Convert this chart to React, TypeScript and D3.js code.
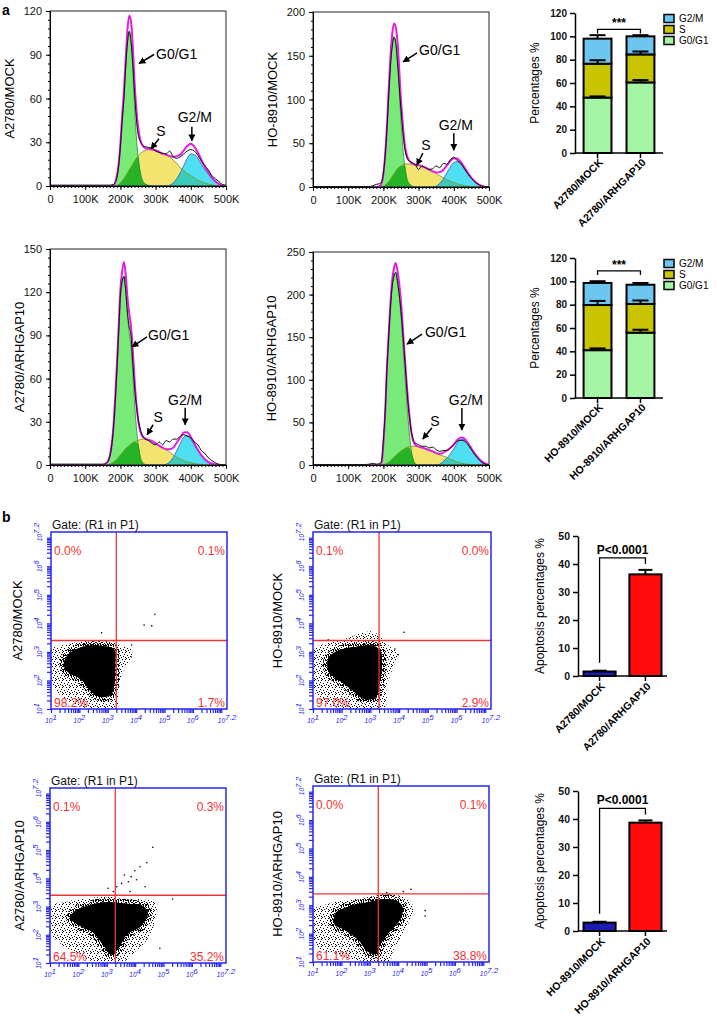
import * as d3 from 'd3';
import React, { useRef, useEffect } from 'react';

const FONT = '"Liberation Sans", Arial, Helvetica, sans-serif';
const FLOW_BLUE = '#2626f2';
const GATE_RED = '#f03434';

// ---------- a: cell cycle histograms (DNA content in K) ----------
const dnaContent = [0, 150, 160, 170, 180, 190, 195, 200, 205, 210, 215, 220, 225, 230, 235, 240, 250, 260, 270, 280, 290, 300, 310, 320, 330, 340, 350, 360, 370, 380, 390, 400, 410, 420, 430, 440, 450, 460, 470, 480, 490, 500];

const a2780MockG1 = [0, 0, 0, 0, 0.5, 6, 14, 27, 44, 60, 80, 98, 106, 100, 82, 55, 20, 6, 1.5, 0.5, 0, 0, 0, 0, 0, 0, 0, 0, 0, 0, 0, 0, 0, 0, 0, 0, 0, 0, 0, 0, 0, 0];
const a2780MockS = [0, 0, 0, 0, 0, 0.5, 1, 2, 3.5, 5, 7, 9, 11, 13, 15, 17, 20.5, 23, 24.5, 25, 25, 24.5, 23.5, 22, 21.5, 20, 18, 15.5, 12.5, 10.5, 8.5, 7, 5.5, 4, 3, 2, 1.3, 0.7, 0.3, 0, 0, 0];
const a2780MockG2 = [0, 0, 0, 0, 0, 0, 0, 0, 0, 0, 0, 0, 0, 0, 0, 0, 0, 0, 0, 0, 0, 0, 0, 0, 0, 0.5, 2, 5, 9, 14, 19, 22, 21.5, 19, 15, 11, 8, 5, 3, 1.3, 0.4, 0];
const a2780MockFit = [0, 0, 0, 0, 0.5, 7, 15, 29, 48, 65, 87, 107, 117, 113, 97, 72, 41, 29, 26, 25.5, 25, 24.5, 23.5, 22, 21.5, 20.5, 20, 20.5, 21.5, 24.5, 27.5, 29, 27, 23, 18, 13, 9.3, 5.7, 3.3, 1.3, 0.4, 0];
const a2780MockObs = [0.6, 0.6, 0.6, 0.6, 1, 6, 14, 27, 45, 60, 82, 98, 106, 99, 84, 64, 36, 29, 27, 26.5, 26, 24, 23, 22.5, 22, 24, 20, 19, 20, 22, 24, 25, 24, 21, 17, 14, 11, 7, 5, 3, 1, 0.5];

const ho8910MockG1 = [0, 0, 0, 0, 0, 1, 4, 14, 35, 65, 105, 140, 163, 172, 165, 145, 75, 25, 6, 1.5, 0, 0, 0, 0, 0, 0, 0, 0, 0, 0, 0, 0, 0, 0, 0, 0, 0, 0, 0, 0, 0, 0];
const ho8910MockS = [0, 0, 0, 0, 0, 0.3, 0.6, 1, 2, 4, 6, 9, 12, 15, 18, 21, 24, 26, 26.5, 26, 25.5, 25, 23.5, 22, 20, 18, 15.5, 13, 10.5, 8.5, 6.5, 5, 3.5, 2.5, 1.5, 1, 0.5, 0.3, 0, 0, 0, 0];
const ho8910MockG2 = [0, 0, 0, 0, 0, 0, 0, 0, 0, 0, 0, 0, 0, 0, 0, 0, 0, 0, 0, 0, 0, 0, 0, 0, 0, 0, 1, 4, 9, 16, 23, 28, 29, 26, 21, 15, 10, 6, 3, 1.2, 0.3, 0];
const ho8910MockFit = [0, 0, 0, 0, 0, 1.3, 4.6, 15, 37, 69, 111, 149, 175, 187, 183, 166, 99, 51, 32.5, 27.5, 25.5, 25, 23.5, 22, 20, 18, 16.5, 17, 19.5, 24.5, 29.5, 33, 32.5, 28.5, 22.5, 16, 10.5, 6.3, 3, 1.2, 0.3, 0];
const ho8910MockObs = [0.6, 0.6, 0.6, 1.5, 3, 4, 6, 16, 36, 66, 104, 138, 160, 171, 165, 142, 88, 46, 31, 28, 26, 20, 24, 22, 20, 21, 24, 22, 27, 26, 31, 34, 30, 27, 21, 15, 10, 6, 3, 1, 0.5, 0];

const a2780ArhG1 = [0, 0, 1, 6, 24, 65, 90, 115, 126, 131, 121, 104, 92, 82, 65, 44, 15, 3, 0.5, 0, 0, 0, 0, 0, 0, 0, 0, 0, 0, 0, 0, 0, 0, 0, 0, 0, 0, 0, 0, 0, 0, 0];
const a2780ArhS = [0, 0, 0, 0.5, 2, 4, 5.5, 7, 8.5, 10, 11.5, 12.5, 13.5, 14.5, 15.5, 16, 17, 18, 18, 17.5, 16.5, 15, 13.5, 12, 10.5, 9, 7, 5.5, 4, 3, 2.2, 1.5, 1, 0.6, 0.3, 0, 0, 0, 0, 0, 0, 0];
const a2780ArhG2 = [0, 0, 0, 0, 0, 0, 0, 0, 0, 0, 0, 0, 0, 0, 0, 0, 0, 0, 0, 0, 0, 0, 0, 0, 0.5, 2, 5, 10, 15, 19.5, 20.5, 18, 14, 10, 6.5, 4, 2, 1, 0.3, 0, 0, 0];
const a2780ArhFit = [0, 0, 1, 6.5, 26, 69, 95.5, 122, 134.5, 141, 132.5, 116.5, 105.5, 96.5, 80.5, 60, 32, 21, 18.5, 17.5, 16.5, 15, 13.5, 12, 11, 11, 12, 15.5, 19, 22.5, 22.7, 19.5, 15, 10.6, 6.8, 4, 2, 1, 0.3, 0, 0, 0];
const a2780ArhObs = [0.6, 0.6, 1.5, 6, 25, 66, 92, 118, 128, 131, 121, 106, 96, 90, 72, 55, 33, 22, 18, 17, 15, 14, 16, 14, 17, 16, 18, 18, 20, 21, 20, 19, 16, 14, 10, 8, 5, 3, 1.5, 0.5, 0.3, 0];

const ho8910ArhG1 = [0, 0, 0, 0, 0, 0, 3, 25, 60, 112, 150, 185, 210, 222, 226, 215, 175, 112, 55, 15, 2, 0, 0, 0, 0, 0, 0, 0, 0, 0, 0, 0, 0, 0, 0, 0, 0, 0, 0, 0, 0, 0];
const ho8910ArhS = [0, 0, 0, 0, 0, 0, 0.2, 0.5, 1, 2, 3.5, 5, 7, 9, 11, 13, 16.5, 19, 21, 22, 22, 21.5, 20.5, 19, 17.5, 16, 14, 12, 10.5, 9, 7, 5, 3.5, 2.3, 1.4, 0.8, 0.4, 0, 0, 0, 0, 0];
const ho8910ArhG2 = [0, 0, 0, 0, 0, 0, 0, 0, 0, 0, 0, 0, 0, 0, 0, 0, 0, 0, 0, 0, 0, 0, 0, 0, 0, 0, 0, 1, 4, 8, 13, 19, 26, 30, 29.5, 25, 19, 13, 8, 4, 1.5, 0.3];
const ho8910ArhFit = [0, 0, 0, 0, 0, 0, 3.2, 25.5, 61, 114, 153.5, 190, 217, 231, 237, 228, 191.5, 131, 76, 37, 24, 21.5, 20.5, 19, 17.5, 16, 14, 13, 14.5, 17, 20, 24, 29.5, 32.3, 30.9, 25.8, 19.4, 13, 8, 4, 1.5, 0.3];
const ho8910ArhObs = [0.6, 0.6, 1, 2, 1, 2, 5, 30, 62, 112, 150, 185, 210, 222, 226, 215, 180, 128, 72, 38, 26, 24, 22, 22, 20, 21, 18, 16, 17, 17, 20, 24, 28, 29, 28, 24, 18, 12, 7, 3, 1, 0.3];

// arrow labels: tip in data units, tail / text offsets in px
const a2780MockNotes = [
  { label: 'G0/G1', k: 253, v: 84, tail: [15, -9], text: [17, -5], anchor: 'start' },
  { label: 'S', k: 287, v: 25.5, tail: [8, -10], text: [10, -13], anchor: 'middle' },
  { label: 'G2/M', k: 403, v: 31, tail: [0, -14], text: [3, -19], anchor: 'middle' },
];
const ho8910MockNotes = [
  { label: 'G0/G1', k: 256, v: 143, tail: [14, -9], text: [16, -7], anchor: 'start' },
  { label: 'S', k: 295, v: 25, tail: [6, -12], text: [9, -15], anchor: 'middle' },
  { label: 'G2/M', k: 400, v: 42, tail: [0, -17], text: [2, -20], anchor: 'middle' },
];
const a2780ArhNotes = [
  { label: 'G0/G1', k: 233, v: 82, tail: [15, -10], text: [16, -7], anchor: 'start' },
  { label: 'S', k: 276, v: 21, tail: [6, -10], text: [11, -13], anchor: 'middle' },
  { label: 'G2/M', k: 384, v: 28, tail: [0, -17], text: [0, -20], anchor: 'middle' },
];
const ho8910ArhNotes = [
  { label: 'G0/G1', k: 267, v: 142, tail: [15, -10], text: [18, -7], anchor: 'start' },
  { label: 'S', k: 312, v: 30.5, tail: [9, -11], text: [12, -13], anchor: 'middle' },
  { label: 'G2/M', k: 423, v: 41, tail: [0, -22], text: [4, -25], anchor: 'middle' },
];

// ---------- a: phase percentages ----------
const PHASES = ['G0/G1', 'S', 'G2/M'];
const cycleGroupsA = ['A2780/MOCK', 'A2780/ARHGAP10'];
const g0g1A = [47.5, 60.5];
const sPhaseA = [29, 24];
const g2mA = [21.5, 15.5];
const g0g1ErrA = [1, 2];
const sPhaseErrA = [3, 2.5];
const g2mErrA = [3, 1];

const cycleGroupsH = ['HO-8910/MOCK', 'HO-8910/ARHGAP10'];
const g0g1H = [41, 56];
const sPhaseH = [38.7, 24.6];
const g2mH = [18.9, 16.5];
const g0g1ErrH = [1.5, 2.5];
const sPhaseErrH = [3.5, 3];
const g2mErrH = [1.5, 1.5];

// ---------- b: annexin / PI dot plots (log10 units) ----------
const gateLog = [3.3, 3.4];

const a2780MockCore = [[1.6, 2.9], [1.95, 3.12], [2.4, 3.22], [2.85, 3.2], [3.22, 3.1], [3.26, 2.48], [3.22, 1.8], [3.1, 1.5], [2.75, 1.42], [2.4, 1.62], [2.05, 2.05], [1.65, 2.25], [1.45, 2.55]];
const a2780MockHalo = [[1.0, 3.07], [1.43, 3.24], [2.02, 3.36], [2.61, 3.44], [3.08, 3.42], [3.43, 3.24], [3.84, 3.07], [3.84, 2.83], [3.55, 2.37], [3.37, 1.55], [3.31, 1.08], [2.73, 1.02], [2.02, 1.08], [1.55, 1.32], [1.14, 1.67], [1.0, 2.02]];
const a2780MockOut = [[4.66, 4.32], [4.28, 3.94], [4.55, 3.91], [2.78, 3.67], [3.84, 3.24], [3.83, 2.82]];
const a2780MockQuad = ['0.0%', '0.1%', '98.2%', '1.7%'];

const ho8910MockCore = [[1.55, 2.8], [1.98, 3.08], [2.52, 3.18], [3.08, 3.22], [3.35, 3.02], [3.4, 2.48], [3.3, 1.8], [3.18, 1.4], [2.78, 1.35], [2.32, 1.7], [1.86, 2.04], [1.55, 2.3]];
const ho8910MockHalo = [[1.0, 3.07], [1.48, 3.3], [2.17, 3.48], [2.75, 3.67], [3.1, 3.71], [3.45, 3.42], [3.68, 3.18], [3.97, 2.95], [3.8, 2.48], [3.57, 1.78], [3.51, 1.08], [2.64, 1.0], [1.71, 1.08], [1.24, 1.32], [1.0, 1.78]];
const ho8910MockOut = [[4.17, 3.69], [1.53, 3.42], [3.97, 2.9], [3.85, 3.1]];
const ho8910MockQuad = ['0.1%', '0.0%', '97.0%', '2.9%'];

const a2780ArhCore = [[1.9, 2.85], [2.4, 3.05], [3.0, 3.15], [3.7, 3.1], [4.3, 3.0], [4.45, 2.75], [4.2, 2.3], [3.7, 2.0], [3.4, 1.5], [3.15, 1.3], [2.9, 1.6], [2.5, 2.1], [2.0, 2.35], [1.7, 2.6]];
const a2780ArhHalo = [[1.02, 2.99], [1.59, 3.17], [2.29, 3.29], [3.0, 3.35], [3.7, 3.29], [4.41, 3.23], [4.76, 3.11], [4.78, 2.88], [4.64, 2.29], [4.41, 1.81], [3.93, 1.34], [3.58, 1.05], [2.53, 1.05], [1.94, 1.34], [1.35, 1.7], [1.02, 2.05]];
const a2780ArhOut = [[4.62, 5.1], [4.41, 4.55], [4.17, 4.41], [3.99, 4.27], [3.86, 4.06], [3.76, 3.88], [3.52, 3.82], [3.35, 3.7], [4.35, 3.7], [3.82, 3.53], [3.23, 3.53], [5.32, 3.27], [4.87, 1.52], [3.05, 3.65], [3.62, 4.12], [4.05, 3.95]];
const a2780ArhQuad = ['0.1%', '0.3%', '64.5%', '35.2%'];

const ho8910ArhCore = [[1.78, 2.7], [2.32, 2.97], [3.01, 3.12], [3.58, 3.22], [4.0, 3.12], [4.16, 2.92], [4.06, 2.48], [3.68, 2.04], [3.36, 1.6], [3.24, 1.28], [2.92, 1.38], [2.58, 1.8], [2.1, 2.14], [1.78, 2.3]];
const ho8910ArhHalo = [[1.01, 2.83], [1.6, 3.07], [2.3, 3.18], [3.01, 3.3], [3.6, 3.4], [3.95, 3.36], [4.3, 3.24], [4.53, 2.95], [4.42, 2.48], [4.18, 2.01], [3.83, 1.42], [3.71, 1.05], [2.66, 1.05], [1.72, 1.31], [1.13, 1.54], [1.01, 2.01]];
const ho8910ArhOut = [[4.45, 3.56], [4.18, 3.48], [3.6, 3.45], [4.95, 2.81], [4.95, 2.62]];
const ho8910ArhQuad = ['0.0%', '0.1%', '61.1%', '38.8%'];

// ---------- b: apoptosis percentages ----------
const apoGroupsA = ['A2780/MOCK', 'A2780/ARHGAP10'];
const apoMeanA = [1.6, 36.3];
const apoErrA = [0.3, 1.6];
const apoGroupsH = ['HO-8910/MOCK', 'HO-8910/ARHGAP10'];
const apoMeanH = [3.0, 38.7];
const apoErrH = [0.3, 0.8];

function styleText(sel, size, weight = 'normal') {
  sel.selectAll('text').attr('font-family', FONT).attr('font-size', size).attr('font-weight', weight).attr('fill', '#111');
}

function CellCycleHistogram({ left, top, width, height, yMax, yStep, label, labelX, g1, s, g2, fit, obs, notes }) {
  const ref = useRef<SVGGElement>(null);

  useEffect(() => {
    const g = d3.select(ref.current);
    g.selectAll('*').remove();
    const bottom = top + height;
    const x = d3.scaleLinear().domain([0, 500]).range([left, left + width]);
    const y = d3.scaleLinear().domain([0, yMax]).range([bottom, top]);
    const rows = dnaContent.map((k, i) => ({ k, g1: g1[i], s: s[i], g2: g2[i], fit: fit[i], obs: obs[i] }));

    const area = (f) => d3.area().x((d: any) => x(d.k)).y0(bottom).y1((d: any) => y(f(d))).curve(d3.curveMonotoneX);
    const line = (f) => d3.line().x((d: any) => x(d.k)).y((d: any) => y(f(d))).curve(d3.curveMonotoneX);

    const fills: any[] = [
      [(d) => d.s, '#f2e46e'],
      [(d) => d.g1, '#78ea78'],
      [(d) => d.g2, '#4ee0f0'],
      [(d) => Math.min(d.g1, d.s), '#26b426'],
      [(d) => Math.min(d.s, d.g2), '#3ccbb8'],
    ];
    fills.forEach(([f, c]) => g.append('path').datum(rows).attr('d', area(f)).attr('fill', c));

    const strokes: any[] = [
      [(d) => d.g1, '#2c8c2c', 0.8],
      [(d) => d.s, '#7b8f1c', 0.8],
      [(d) => d.g2, '#3355cc', 0.8],
      [(d) => d.fit, '#e21de2', 2],
      [(d) => d.obs, '#111', 1],
    ];
    strokes.forEach(([f, c, w]) =>
      g.append('path').datum(rows).attr('d', line(f)).attr('fill', 'none').attr('stroke', c).attr('stroke-width', w)
    );

    g.append('rect')
      .attr('x', left).attr('y', top).attr('width', width).attr('height', height)
      .attr('fill', 'none').attr('stroke', '#222');

    const xAxis = g.append('g').attr('transform', `translate(0,${bottom})`)
      .call(d3.axisBottom(x).tickValues(d3.range(0, 501, 100)).tickSize(4).tickSizeOuter(0).tickPadding(5)
        .tickFormat((d: any) => (d === 0 ? '0' : `${d}K`)));
    g.append('g').attr('transform', `translate(0,${bottom})`)
      .call(d3.axisBottom(x).tickValues(d3.range(0, 501, 10)).tickSize(2).tickSizeOuter(0).tickFormat(() => ''));
    const yAxis = g.append('g').attr('transform', `translate(${left},0)`)
      .call(d3.axisLeft(y).tickValues(d3.range(0, yMax + 1, yStep)).tickSize(4).tickSizeOuter(0).tickPadding(4));
    g.append('g').attr('transform', `translate(${left},0)`)
      .call(d3.axisLeft(y).tickValues(d3.range(0, yMax + 0.01, yStep / 5)).tickSize(2).tickSizeOuter(0).tickFormat(() => ''));
    styleText(xAxis, 11);
    styleText(yAxis, 11);

    g.append('text')
      .attr('transform', `translate(${labelX},${top + height / 2}) rotate(-90)`)
      .attr('text-anchor', 'middle').attr('dominant-baseline', 'central')
      .attr('font-family', FONT).attr('font-size', 13).text(label);

    notes.forEach((n) => {
      const px = x(n.k);
      const py = y(n.v);
      g.append('line')
        .attr('x1', px + n.tail[0]).attr('y1', py + n.tail[1]).attr('x2', px).attr('y2', py)
        .attr('stroke', '#000').attr('stroke-width', 1.5).attr('marker-end', 'url(#arrowHead)');
      g.append('text')
        .attr('x', px + n.text[0]).attr('y', py + n.text[1]).attr('text-anchor', n.anchor)
        .attr('font-family', FONT).attr('font-size', 14).text(n.label);
    });
  }, []);

  return <g ref={ref} />;
}

const PHASE_COLORS = { 'G0/G1': '#a6f5a6', S: '#c8c400', 'G2/M': '#6cc6f0' };

function PhaseStack({ top, bottom, groups, g0g1, sPhase, g2m, g0g1Err, sPhaseErr, g2mErr, sigLevel }) {
  const ref = useRef<SVGGElement>(null);

  useEffect(() => {
    const g = d3.select(ref.current);
    g.selectAll('*').remove();
    const x = d3.scaleBand().domain(groups).range([575, 663]).paddingInner(0.35).paddingOuter(0.2);
    const y = d3.scaleLinear().domain([0, 120]).range([bottom, top]);
    const table = groups.map((grp, i) => ({ group: grp, 'G0/G1': g0g1[i], S: sPhase[i], 'G2/M': g2m[i] }));
    const errs = { 'G0/G1': g0g1Err, S: sPhaseErr, 'G2/M': g2mErr };
    const layers = d3.stack().keys(PHASES)(table as any);

    layers.forEach((layer) => {
      g.append('g').selectAll('rect').data(layer).join('rect')
        .attr('x', (d: any) => x(d.data.group))
        .attr('y', (d) => y(d[1]))
        .attr('width', x.bandwidth())
        .attr('height', (d) => y(d[0]) - y(d[1]))
        .attr('fill', PHASE_COLORS[layer.key])
        .attr('stroke', '#000').attr('stroke-width', 2);
    });
    layers.forEach((layer) => {
      layer.forEach((d: any, i) => {
        const cx = x(d.data.group) + x.bandwidth() / 2;
        const yTop = y(d[1] + errs[layer.key][i]);
        g.append('line').attr('x1', cx).attr('x2', cx).attr('y1', y(d[1])).attr('y2', yTop).attr('stroke', '#000').attr('stroke-width', 2);
        g.append('line').attr('x1', cx - 8).attr('x2', cx + 8).attr('y1', yTop).attr('y2', yTop).attr('stroke', '#000').attr('stroke-width', 2);
      });
    });

    const yAxis = g.append('g').attr('transform', 'translate(575,0)')
      .call(d3.axisLeft(y).tickValues(d3.range(0, 121, 20)).tickSize(5).tickSizeOuter(0).tickPadding(3));
    yAxis.selectAll('line, path').attr('stroke-width', 1.5);
    styleText(yAxis, 10, 'bold');

    g.append('line').attr('x1', 575).attr('x2', 663).attr('y1', bottom).attr('y2', bottom).attr('stroke', '#000').attr('stroke-width', 1.5);
    groups.forEach((grp) => {
      const cx = x(grp) + x.bandwidth() / 2;
      g.append('line').attr('x1', cx).attr('x2', cx).attr('y1', bottom).attr('y2', bottom + 5).attr('stroke', '#000').attr('stroke-width', 1.5);
      g.append('text')
        .attr('transform', `translate(${cx + 6},${bottom + 10}) rotate(-45)`)
        .attr('text-anchor', 'end').attr('font-family', FONT).attr('font-size', 10.5).attr('font-weight', 'bold')
        .text(grp);
    });

    const c0 = x(groups[0]) + x.bandwidth() / 2;
    const c1 = x(groups[1]) + x.bandwidth() / 2;
    g.append('path')
      .attr('d', `M${c0},${y(sigLevel - 3.5)}V${y(sigLevel)}H${c1}V${y(sigLevel - 3.5)}`)
      .attr('fill', 'none').attr('stroke', '#000').attr('stroke-width', 1.3);
    g.append('text').attr('x', (c0 + c1) / 2).attr('y', y(sigLevel) - 2).attr('text-anchor', 'middle')
      .attr('font-family', FONT).attr('font-size', 12).attr('font-weight', 'bold').text('***');

    g.append('text')
      .attr('transform', `translate(535,${(top + bottom) / 2}) rotate(-90)`)
      .attr('text-anchor', 'middle').attr('dominant-baseline', 'central')
      .attr('font-family', FONT).attr('font-size', 12).text('Percentages %');

    const legend = g.append('g').selectAll('g').data(PHASES.slice().reverse()).join('g')
      .attr('transform', (d, i) => `translate(664,${top + 1.5 + i * 11})`);
    legend.append('rect').attr('width', 10).attr('height', 8).attr('fill', (d) => PHASE_COLORS[d]).attr('stroke', '#000').attr('stroke-width', 1.5);
    legend.append('text').attr('x', 15).attr('y', 7.5).attr('font-family', FONT).attr('font-size', 10).text((d) => d);
  }, []);

  return <g ref={ref} />;
}

function FlowDotPlot({ id, left, top, width, height, label, labelX, core, halo, outliers, quadrants }) {
  const ref = useRef<SVGGElement>(null);

  useEffect(() => {
    const g = d3.select(ref.current);
    g.selectAll('*').remove();
    const bottom = top + height;
    const right = left + width;
    const x = d3.scaleLog().domain([10, 10 ** 7.2]).range([left, right]);
    const y = d3.scaleLog().domain([10, 10 ** 7.2]).range([bottom, top]);
    const px = (p) => x(10 ** p[0]);
    const py = (p) => y(10 ** p[1]);

    g.append('clipPath').attr('id', `clip-${id}`)
      .append('rect').attr('x', left).attr('y', top).attr('width', width).attr('height', height);
    const shape = d3.line().x(px).y(py).curve(d3.curveCatmullRomClosed);
    const cloud = g.append('g').attr('clip-path', `url(#clip-${id})`);
    cloud.append('path').attr('d', shape(halo)).attr('fill', 'url(#speckle)');
    cloud.append('path').attr('d', shape(core)).attr('fill', '#000')
      .attr('stroke', 'url(#speckleDense)').attr('stroke-width', 9).attr('stroke-linejoin', 'round');
    cloud.append('path').attr('d', shape(core)).attr('fill', '#000');
    cloud.selectAll('circle').data(outliers).join('circle')
      .attr('cx', px).attr('cy', py).attr('r', 0.8).attr('fill', '#000');

    const gx = x(10 ** gateLog[0]);
    const gy = y(10 ** gateLog[1]);
    g.append('line').attr('x1', gx).attr('x2', gx).attr('y1', top).attr('y2', bottom).attr('stroke', GATE_RED).attr('stroke-width', 1.3);
    g.append('line').attr('x1', left).attr('x2', right).attr('y1', gy).attr('y2', gy).attr('stroke', GATE_RED).attr('stroke-width', 1.3);

    g.append('rect').attr('x', left).attr('y', top).attr('width', width).attr('height', height)
      .attr('fill', 'none').attr('stroke', FLOW_BLUE).attr('stroke-width', 1.5);

    const xt = g.append('g').attr('transform', `translate(0,${bottom})`)
      .call(d3.axisBottom(x).tickValues(x.ticks()).tickSize(4).tickSizeOuter(0).tickFormat(() => ''));
    const yt = g.append('g').attr('transform', `translate(${left},0)`)
      .call(d3.axisLeft(y).tickValues(y.ticks()).tickSize(4).tickSizeOuter(0).tickFormat(() => ''));
    [xt, yt].forEach((a) => {
      a.select('.domain').remove();
      a.selectAll('line').attr('stroke', FLOW_BLUE).attr('stroke-width', 1.2);
    });

    const decades = ['1', '2', '3', '4', '5', '6', '7.2'];
    decades.forEach((p) => {
      const v = 10 ** +p;
      const tx = g.append('text').attr('x', x(v)).attr('y', bottom + 14).attr('text-anchor', 'middle')
        .attr('font-family', FONT).attr('font-style', 'italic').attr('fill', FLOW_BLUE);
      tx.append('tspan').attr('font-size', 6.5).text('10');
      tx.append('tspan').attr('font-size', 8).attr('dy', -3).text(p);
      const ty = g.append('text').attr('transform', `translate(${left - 9},${y(v)}) rotate(-90)`).attr('text-anchor', 'middle')
        .attr('font-family', FONT).attr('font-style', 'italic').attr('fill', FLOW_BLUE);
      ty.append('tspan').attr('font-size', 6.5).text('10');
      ty.append('tspan').attr('font-size', 8).attr('dy', -3).text(p);
    });

    g.append('text').attr('x', left + 1).attr('y', top - 3).attr('font-family', FONT).attr('font-size', 12).attr('fill', '#111')
      .text('Gate: (R1 in P1)');

    const quadPos = [
      [left + 3, top + 23, 'start'],
      [right - 2, top + 23, 'end'],
      [left + 3, bottom - 2, 'start'],
      [right - 2, bottom - 2, 'end'],
    ];
    quadrants.forEach((q, i) => {
      g.append('text').attr('x', quadPos[i][0]).attr('y', quadPos[i][1]).attr('text-anchor', quadPos[i][2])
        .attr('font-family', FONT).attr('font-size', 12).attr('fill', GATE_RED).text(q);
    });

    g.append('text')
      .attr('transform', `translate(${labelX},${top + height / 2}) rotate(-90)`)
      .attr('text-anchor', 'middle').attr('dominant-baseline', 'central')
      .attr('font-family', FONT).attr('font-size', 13).text(label);
  }, []);

  return <g ref={ref} />;
}

const APO_COLORS = ['#1c1cb4', '#ff0d0d'];

function ApoptosisBars({ top, bottom, groups, means, errs }) {
  const ref = useRef<SVGGElement>(null);

  useEffect(() => {
    const g = d3.select(ref.current);
    g.selectAll('*').remove();
    const x = d3.scaleBand().domain(groups).range([578, 667]).paddingInner(0.3).paddingOuter(0.12);
    const y = d3.scaleLinear().domain([0, 50]).range([bottom, top]);

    g.selectAll('rect').data(means).join('rect')
      .attr('x', (d, i) => x(groups[i]))
      .attr('y', (d) => y(d))
      .attr('width', x.bandwidth())
      .attr('height', (d) => bottom - y(d))
      .attr('fill', (d, i) => APO_COLORS[i])
      .attr('stroke', '#000').attr('stroke-width', 2);

    const centers = groups.map((grp) => x(grp) + x.bandwidth() / 2);
    means.forEach((m, i) => {
      const yTop = y(m + errs[i]);
      g.append('line').attr('x1', centers[i]).attr('x2', centers[i]).attr('y1', y(m)).attr('y2', yTop).attr('stroke', '#000').attr('stroke-width', 2);
      g.append('line').attr('x1', centers[i] - 7).attr('x2', centers[i] + 7).attr('y1', yTop).attr('y2', yTop).attr('stroke', '#000').attr('stroke-width', 2);
    });

    const yAxis = g.append('g').attr('transform', 'translate(578,0)')
      .call(d3.axisLeft(y).tickValues(d3.range(0, 51, 10)).tickSize(5).tickSizeOuter(0).tickPadding(3));
    yAxis.selectAll('line, path').attr('stroke-width', 1.5);
    styleText(yAxis, 10.5, 'bold');

    g.append('line').attr('x1', 578).attr('x2', 667).attr('y1', bottom).attr('y2', bottom).attr('stroke', '#000').attr('stroke-width', 1.5);
    groups.forEach((grp, i) => {
      g.append('line').attr('x1', centers[i]).attr('x2', centers[i]).attr('y1', bottom).attr('y2', bottom + 5).attr('stroke', '#000').attr('stroke-width', 1.5);
      g.append('text')
        .attr('transform', `translate(${centers[i] + 6},${bottom + 11}) rotate(-45)`)
        .attr('text-anchor', 'end').attr('font-family', FONT).attr('font-size', 10.5).attr('font-weight', 'bold')
        .text(grp);
    });

    const hiTop = y(means[1] + errs[1]);
    const bracketY = hiTop - 12;
    g.append('path')
      .attr('d', `M${centers[0]},${y(means[0] + errs[0]) - 8}V${bracketY}H${centers[1]}V${hiTop - 6}`)
      .attr('fill', 'none').attr('stroke', '#000').attr('stroke-width', 1.3);
    g.append('text').attr('x', (centers[0] + centers[1]) / 2).attr('y', bracketY - 4).attr('text-anchor', 'middle')
      .attr('font-family', FONT).attr('font-size', 12).attr('font-weight', 'bold').text('P<0.0001');

    g.append('text')
      .attr('transform', `translate(540,${(top + bottom) / 2}) rotate(-90)`)
      .attr('text-anchor', 'middle').attr('dominant-baseline', 'central')
      .attr('font-family', FONT).attr('font-size', 12).text('Apoptosis percentages %');
  }, []);

  return <g ref={ref} />;
}

export default function App() {
  return (
    <svg width={717} height={1021} style={{ position: 'absolute', left: 0, top: 0, background: '#fff' }}>
      <defs>
        <marker id="arrowHead" viewBox="0 0 10 10" refX="9" refY="5" markerWidth="7" markerHeight="7" markerUnits="userSpaceOnUse" orient="auto">
          <path d="M0,0L10,5L0,10z" fill="#000" />
        </marker>
        <pattern id="speckle" width="7" height="7" patternUnits="userSpaceOnUse">
          <rect x="0" y="0" width="1" height="1" fill="#000" />
          <rect x="3" y="1" width="1" height="1" fill="#000" />
          <rect x="5" y="3" width="1" height="1" fill="#000" />
          <rect x="1" y="4" width="1" height="1" fill="#000" />
          <rect x="4" y="5" width="1" height="1" fill="#000" />
          <rect x="6" y="6" width="1" height="1" fill="#000" />
          <rect x="2" y="6" width="1" height="1" fill="#000" />
          <rect x="6" y="1" width="1" height="1" fill="#000" />
        </pattern>
        <pattern id="speckleDense" width="5" height="5" patternUnits="userSpaceOnUse">
          <rect x="0" y="0" width="2" height="1" fill="#000" />
          <rect x="3" y="0" width="1" height="2" fill="#000" />
          <rect x="1" y="2" width="1" height="1" fill="#000" />
          <rect x="4" y="3" width="1" height="1" fill="#000" />
          <rect x="0" y="4" width="1" height="1" fill="#000" />
          <rect x="2" y="4" width="2" height="1" fill="#000" />
        </pattern>
      </defs>
      <rect width={717} height={1021} fill="#fff" />
      <text x={2} y={15} fontFamily={FONT} fontSize={14} fontWeight="bold">a</text>
      <text x={2} y={522} fontFamily={FONT} fontSize={14} fontWeight="bold">b</text>

      <CellCycleHistogram left={50} top={11} width={176} height={175} yMax={120} yStep={30} label="A2780/MOCK" labelX={9}
        g1={a2780MockG1} s={a2780MockS} g2={a2780MockG2} fit={a2780MockFit} obs={a2780MockObs} notes={a2780MockNotes} />
      <CellCycleHistogram left={313} top={12} width={176} height={175} yMax={200} yStep={50} label="HO-8910/MOCK" labelX={272}
        g1={ho8910MockG1} s={ho8910MockS} g2={ho8910MockG2} fit={ho8910MockFit} obs={ho8910MockObs} notes={ho8910MockNotes} />
      <CellCycleHistogram left={50} top={249} width={176} height={216} yMax={150} yStep={30} label="A2780/ARHGAP10" labelX={19}
        g1={a2780ArhG1} s={a2780ArhS} g2={a2780ArhG2} fit={a2780ArhFit} obs={a2780ArhObs} notes={a2780ArhNotes} />
      <CellCycleHistogram left={313} top={252} width={176} height={213} yMax={250} yStep={50} label="HO-8910/ARHGAP10" labelX={271}
        g1={ho8910ArhG1} s={ho8910ArhS} g2={ho8910ArhG2} fit={ho8910ArhFit} obs={ho8910ArhObs} notes={ho8910ArhNotes} />

      <PhaseStack top={13} bottom={153} groups={cycleGroupsA} g0g1={g0g1A} sPhase={sPhaseA} g2m={g2mA}
        g0g1Err={g0g1ErrA} sPhaseErr={sPhaseErrA} g2mErr={g2mErrA} sigLevel={106} />
      <PhaseStack top={258} bottom={398} groups={cycleGroupsH} g0g1={g0g1H} sPhase={sPhaseH} g2m={g2mH}
        g0g1Err={g0g1ErrH} sPhaseErr={sPhaseErrH} g2mErr={g2mErrH} sigLevel={109} />

      <FlowDotPlot id="f1" left={51} top={532} width={176} height={177} label="A2780/MOCK" labelX={17}
        core={a2780MockCore} halo={a2780MockHalo} outliers={a2780MockOut} quadrants={a2780MockQuad} />
      <FlowDotPlot id="f2" left={313} top={532} width={178} height={177} label="HO-8910/MOCK" labelX={277}
        core={ho8910MockCore} halo={ho8910MockHalo} outliers={ho8910MockOut} quadrants={ho8910MockQuad} />
      <FlowDotPlot id="f3" left={50} top={788} width={176} height={175} label="A2780/ARHGAP10" labelX={19}
        core={a2780ArhCore} halo={a2780ArhHalo} outliers={a2780ArhOut} quadrants={a2780ArhQuad} />
      <FlowDotPlot id="f4" left={313} top={786} width={176} height={176} label="HO-8910/ARHGAP10" labelX={277}
        core={ho8910ArhCore} halo={ho8910ArhHalo} outliers={ho8910ArhOut} quadrants={ho8910ArhQuad} />

      <ApoptosisBars top={536} bottom={676} groups={apoGroupsA} means={apoMeanA} errs={apoErrA} />
      <ApoptosisBars top={791} bottom={931} groups={apoGroupsH} means={apoMeanH} errs={apoErrH} />
    </svg>
  );
}
